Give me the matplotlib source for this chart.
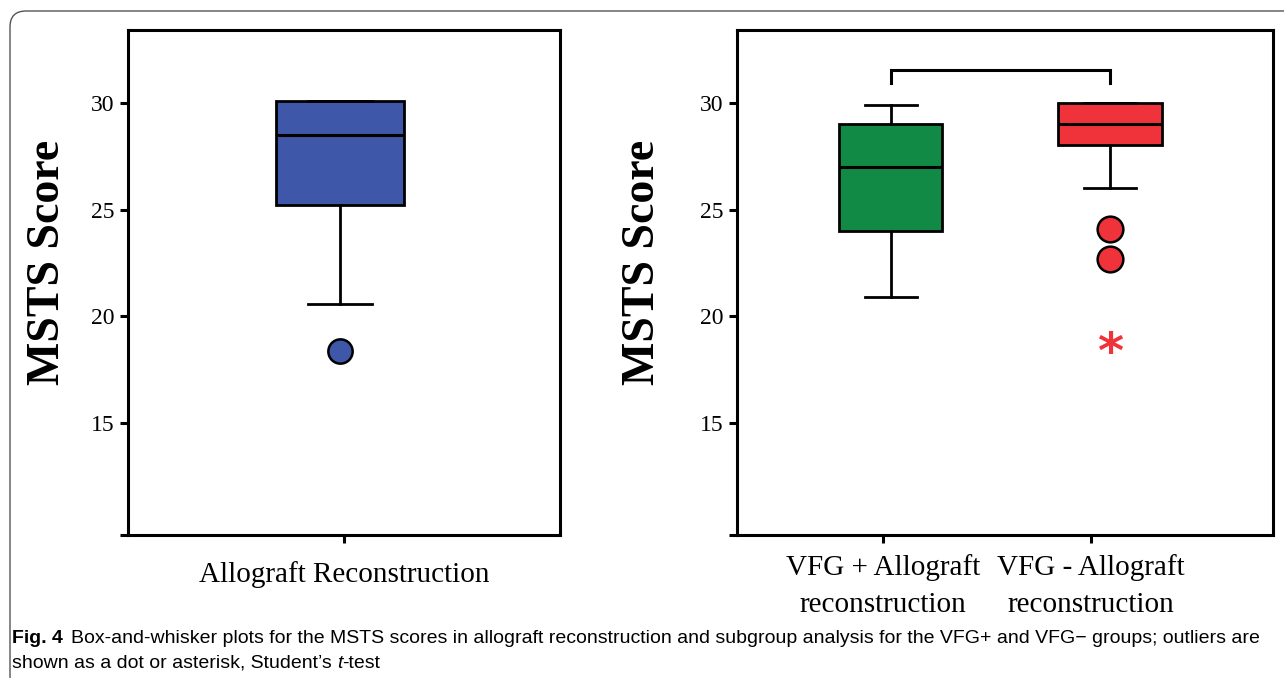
import numpy as np
import matplotlib.pyplot as plt
from matplotlib.patches import FancyBboxPatch
from matplotlib.transforms import IdentityTransform

plt.rcParams.update({
    "font.family": ["Liberation Serif", "DejaVu Serif"],
    "axes.linewidth": 2.2,
    "xtick.major.width": 2.2,
    "ytick.major.width": 2.2,
    "xtick.major.size": 6,
    "ytick.major.size": 6,
    "xtick.labelsize": 21,
    "ytick.labelsize": 17,
})

# box statistics
left_label = "Allograft Reconstruction"
left_stats = dict(q1=25.2, med=28.5, q3=30.1, whislo=20.6, whishi=30.1)
left_fliers = [18.4]

right_labels = ["VFG + Allograft\nreconstruction", "VFG - Allograft\nreconstruction"]
right_q1 = [24.0, 28.0]
right_med = [27.0, 29.0]
right_q3 = [29.0, 30.0]
right_whislo = [20.9, 26.0]
right_whishi = [29.9, 30.0]
right_fliers = [[], [24.1, 22.7]]
extreme_vfg_minus = 18.25   # asterisk
bracket_y = [30.9, 31.55]

BLUE = "#3f57a8"
GREEN = "#118a45"
RED = "#f0333a"

W, H = 1284, 678
fig = plt.figure(figsize=(W / 100, H / 100), dpi=100)

ylo, yhi = 9.77, 33.4
yt = [ylo, 15, 20, 25, 30]
ytl = ["", "15", "20", "25", "30"]


def style_axes(ax):
    ax.set_ylim(ylo, yhi)
    ax.set_xlim(0, 1)
    ax.set_yticks(yt)
    ax.set_yticklabels(ytl)
    ax.tick_params(axis="y", direction="out", pad=4)
    ax.set_ylabel("MSTS Score", fontsize=33, fontweight="bold")


def draw_boxes(ax, stats, pos, widths, colors, msize):
    bp = ax.bxp(stats, positions=pos, widths=widths, capwidths=[w / 2 for w in widths],
                patch_artist=True, showfliers=True,
                boxprops=dict(linewidth=2.0, edgecolor="black"),
                medianprops=dict(color="black", linewidth=2.2),
                whiskerprops=dict(color="black", linewidth=2.0),
                capprops=dict(color="black", linewidth=2.0),
                flierprops=dict(marker="o", markersize=msize, markeredgecolor="black",
                                markeredgewidth=1.8))
    for patch, c in zip(bp["boxes"], colors):
        patch.set_facecolor(c)
    for fl, c in zip(bp["fliers"], colors):
        fl.set_markerfacecolor(c)
    return bp


# left panel
ax1 = fig.add_axes([128 / W, 1 - 535 / H, 432 / W, 505 / H])
style_axes(ax1)
s = dict(left_stats)
s["fliers"] = left_fliers
draw_boxes(ax1, [s], [0.49], [0.296], [BLUE], 17.5)
ax1.set_xticks([0.5])
ax1.set_xticklabels([left_label])
ax1.tick_params(axis="x", direction="out", pad=13)
ax1.yaxis.set_label_coords(-0.137, 0.54)

# right panel
ax2 = fig.add_axes([737 / W, 1 - 535 / H, 536 / W, 505 / H])
style_axes(ax2)
pos = [0.287, 0.696]
stats = []
for i in range(2):
    stats.append(dict(q1=right_q1[i], med=right_med[i], q3=right_q3[i],
                      whislo=right_whislo[i], whishi=right_whishi[i],
                      fliers=right_fliers[i]))
draw_boxes(ax2, stats, pos, [0.192, 0.194], [GREEN, RED], 18.5)
ax2.set_xticks([0.272, 0.66])
ax2.set_xticklabels(right_labels, linespacing=1.55)
ax2.tick_params(axis="x", direction="out", pad=8)
ax2.yaxis.set_label_coords(-0.136, 0.54)

ax2.text(pos[1], extreme_vfg_minus, "*", color=RED, fontsize=36, fontweight="bold",
         ha="center", va="center", family="DejaVu Sans")
ax2.plot([pos[0], pos[0], pos[1], pos[1]],
         [bracket_y[0], bracket_y[1], bracket_y[1], bracket_y[0]],
         color="black", lw=2.2, solid_joinstyle="miter")

# caption
cap_font = ["Liberation Sans Narrow", "Liberation Sans", "DejaVu Sans"]
cs = 14
t0 = fig.text(12 / W, 1 - 643 / H, "Fig. 4", fontsize=cs, fontweight="bold",
              family=cap_font)
ax1.annotate("Box-and-whisker plots for the MSTS scores in allograft reconstruction and "
             "subgroup analysis for the VFG+ and VFG\u2212 groups; outliers are",
             xy=(1, 0), xycoords=t0, xytext=(6, 0), textcoords="offset points",
             va="bottom", fontsize=cs, family=cap_font, annotation_clip=False)
t2 = fig.text(12 / W, 1 - 668 / H, "shown as a dot or asterisk, Student\u2019s ",
              fontsize=cs, family=cap_font)
t3 = ax1.annotate("t", xy=(1, 0), xycoords=t2, va="bottom", fontsize=cs,
                  family=cap_font, style="italic", annotation_clip=False)
ax1.annotate("-test", xy=(1, 0), xycoords=t3, va="bottom", fontsize=cs,
             family=cap_font, annotation_clip=False)

# rounded outer frame
frame = FancyBboxPatch((10, -30), W + 40, H - 11 + 30,
                       boxstyle="round,pad=0,rounding_size=16",
                       transform=IdentityTransform(), facecolor="none",
                       edgecolor="#555555", linewidth=1.0)
fig.add_artist(frame)

fig.savefig("out.png", dpi=100)
